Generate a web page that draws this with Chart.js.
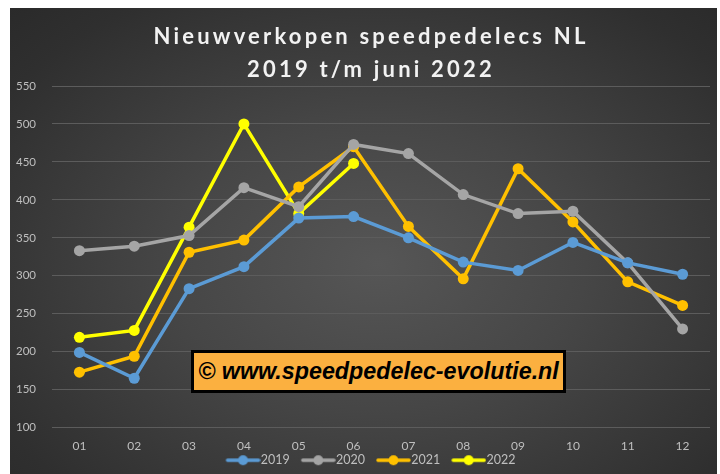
<!DOCTYPE html>
<html>
<head>
<meta charset="utf-8">
<script src="https://cdn.jsdelivr.net/npm/chart.js@4/dist/chart.umd.min.js"></script>
<style>
  html, body { margin: 0; padding: 0; background: #ffffff; }
  body { width: 720px; height: 474px; position: relative; overflow: hidden; }
  #wrap {
    position: absolute; left: 10px; top: 8px; width: 707px; height: 466px; overflow: hidden;
    background: radial-gradient(ellipse at 52% 55%, #565656 0%, #464646 40%, #2f2f2f 85%, #2a2a2a 100%);
  }
  #c { display: block; }
  #mark {
    position: absolute; left: 181px; top: 342px; width: 369px; height: 37px;
    background: #fbb040; border: 3px solid #000; box-sizing: content-box;
    font-family: "Liberation Sans", Arial, sans-serif; font-weight: bold; font-style: italic;
    font-size: 23.3px; line-height: 37px; color: #000; text-align: center; white-space: nowrap;
  }
</style>
</head>
<body>
<div id="wrap">
  <canvas id="c" width="707" height="466"></canvas>
  <div id="mark">© www.speedpedelec-evolutie.nl</div>
</div>
<script>
const categories = ["01","02","03","04","05","06","07","08","09","10","11","12"];
const seriesNames = ["2019","2020","2021","2022"];
const values2019 = [199,165,283,312,376,378,350,318,307,344,317,302];
const values2020 = [333,339,353,416,391,473,461,407,382,385,317,230];
const values2021 = [173,194,331,347,417,470,365,296,441,371,292,261];
const values2022 = [219,228,364,500,382,448,null,null,null,null,null,null];
const seriesColors = ["#5b9bd5","#a5a5a5","#ffc000","#ffff00"];
const titleLines = ["Nieuwverkopen speedpedelecs NL","2019 t/m juni 2022"];
const yMin = 100, yMax = 550, yStep = 50;

const allValues = [values2019, values2020, values2021, values2022];

// legend icon: a line with a dot, shifted so the line runs up to the label text
function legendIcon(color) {
  const cv = document.createElement('canvas');
  cv.width = 40; cv.height = 12;
  const g = cv.getContext('2d');
  g.strokeStyle = color; g.lineWidth = 3.5; g.lineCap = 'round';
  g.beginPath(); g.moveTo(7, 6); g.lineTo(38, 6); g.stroke();
  g.fillStyle = color;
  g.beginPath(); g.arc(22.5, 6, 5, 0, Math.PI * 2); g.fill();
  return cv;
}

const LEGEND_H = 10;

const shiftPlugin = {
  id: 'shift',
  beforeLayout(chart) {
    const lg = chart.legend;
    if (lg && !lg._fitWrapped) {
      const f = lg.fit.bind(lg);
      lg.fit = function () { f(); this.height = LEGEND_H; };
      lg._fitWrapped = true;
    }
  },
  beforeDraw(chart) {
    const ctx = chart.ctx;
    const tb = chart.titleBlock;
    if (tb && !tb._wrapped) {
      const d = tb.draw.bind(tb);
      tb.draw = function (a) {
        ctx.save();
        ctx.translate(8, 6);
        ctx.letterSpacing = '3.2px';
        d(a);
        ctx.restore();
      };
      tb._wrapped = true;
    }
    const lg = chart.legend;
    if (lg && !lg._wrapped) {
      lg.draw = function () {
        ctx.save();
        ctx.translate(8, -22);
        this._draw();
        ctx.restore();
      };
      lg._wrapped = true;
    }
  }
};

const datasets = seriesNames.map((n, i) => ({
  label: n,
  data: allValues[i],
  borderColor: seriesColors[i],
  backgroundColor: seriesColors[i],
  borderWidth: 3.5,
  pointRadius: 5.5,
  pointHoverRadius: 5.5,
  pointBorderWidth: 0,
  tension: 0,
  spanGaps: false
}));

new Chart(document.getElementById('c'), {
  type: 'line',
  data: { labels: categories, datasets },
  plugins: [shiftPlugin],
  options: {
    responsive: false,
    animation: false,
    layout: { padding: { left: 6, right: 7, top: 0, bottom: 0 } },
    plugins: {
      tooltip: { enabled: false },
      title: {
        display: true,
        text: titleLines,
        color: '#f2f2f2',
        font: { family: 'Lato', weight: 'bold', size: 22, lineHeight: 1.5 },
        padding: { top: 6, bottom: 6 }
      },
      legend: {
        position: 'bottom',
        labels: {
          color: '#bfbfbf',
          font: { family: 'Lato', size: 12.5 },
          usePointStyle: true,
          pointStyleWidth: 28,
          padding: 12,
          generateLabels: (chart) => chart.data.datasets.map((d, i) => ({
            text: d.label,
            fillStyle: d.borderColor,
            strokeStyle: d.borderColor,
            fontColor: '#bfbfbf',
            lineWidth: 0,
            pointStyle: legendIcon(d.borderColor),
            datasetIndex: i,
            hidden: false
          }))
        }
      }
    },
    scales: {
      x: {
        offset: true,
        grid: { display: false, drawTicks: false },
        border: { display: false },
        ticks: { color: '#bfbfbf', font: { family: 'Lato', size: 12 }, padding: 11 }
      },
      y: {
        min: yMin, max: yMax,
        afterFit: (s) => { s.width = 36; },
        grid: { color: '#5c5c5c', lineWidth: 1, drawTicks: false },
        border: { display: false },
        ticks: { stepSize: yStep, color: '#bfbfbf', font: { family: 'Lato', size: 11.5 }, crossAlign: 'far', padding: 0 }
      }
    }
  }
});
</script>
</body>
</html>
